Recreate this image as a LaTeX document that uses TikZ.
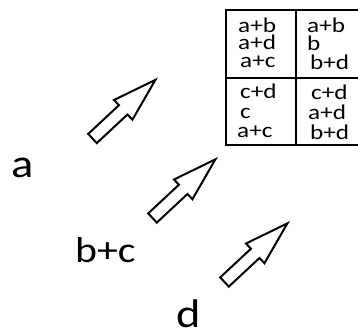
\documentclass[tikz,border=0pt]{standalone}
\usepackage{fontspec}
\setmainfont{Carlito}
\newfontfamily\widefont[FakeStretch=1.16]{Carlito}
\newfontfamily\cellfont[FakeStretch=1.2]{Carlito}
\begin{document}
\begin{tikzpicture}[x=1pt,y=-1pt,
  big/.style={inner sep=0pt,anchor=base west,font=\widefont\fontsize{#1}{#1}\selectfont},
  cell/.style={inner sep=0pt,anchor=base west,font=\cellfont\fontsize{21}{21}\selectfont},
  grid/.style={line width=2.7pt},
  blockarrow/.pic={\draw[line width=2pt,line join=miter,fill=white]
     (0,-6.3) -- (42,-6.3) -- (42,-13.5) -- (86,0) -- (42,13.5) -- (42,6.3) -- (0,6.3) -- cycle;}]
\clip (0,0) rectangle (358,332);
\useasboundingbox (0,0) rectangle (358,332);
% table
\draw[grid] (226,10) rectangle (380,145);
\draw[grid] (296,10) -- (296,145);
\draw[grid] (226,78) -- (380,78);
% cell texts
\node[cell] (tl1) at (238,32) {a+b};
\node[cell] (tl2) at (238,49) {a+d};
\node[cell] (tl3) at (240,67) {a+c};
\node[cell] (tr1) at (307,32) {a+b};
\node[cell] (tr2) at (307,50) {b};
\node[cell] (tr3) at (310,69) {b+d};
\node[cell] (bl1) at (240,98) {c+d};
\node[cell] (bl2) at (240,118) {c};
\node[cell] (bl3) at (237,137) {a+c};
\node[cell] (br1) at (311,99) {c+d};
\node[cell] (br2) at (308,119) {a+d};
\node[cell] (br3) at (310,139) {b+d};
% labels
\node[big=40] (la) at (11,177) {a};
\node[big=36] (lbc) at (75,262) {b+c};
\node[big=40] (ld) at (176,327) {d};
% arrows
\pic[shift={(92.5,138.5)},rotate=43] {blockarrow};
\pic[shift={(152.5,218)},rotate=43] {blockarrow};
\pic[shift={(224.5,282)},rotate=43] {blockarrow};
\end{tikzpicture}
\end{document}
